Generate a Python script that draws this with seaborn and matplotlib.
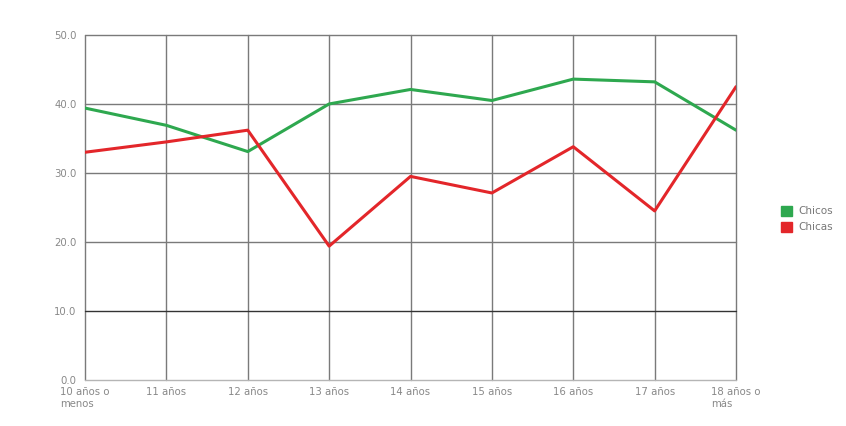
import matplotlib
matplotlib.use("Agg")
import matplotlib.pyplot as plt
from matplotlib.patches import Patch
from matplotlib.ticker import MultipleLocator
import seaborn as sns
import pandas as pd

categories = ["10 años o\nmenos", "11 años", "12 años", "13 años", "14 años",
              "15 años", "16 años", "17 años", "18 años o\nmás"]
chicos = [39.4, 36.9, 33.1, 40.0, 42.1, 40.5, 43.6, 43.2, 36.2]
chicas = [33.0, 34.5, 36.2, 19.4, 29.5, 27.1, 33.8, 24.5, 42.5]
series_names = ["Chicos", "Chicas"]
colors = ["#2ea84f", "#e3262a"]
yticks = [0, 10, 20, 30, 40, 50]

rows = []
for name, vals in zip(series_names, [chicos, chicas]):
    for i, v in enumerate(vals):
        rows.append({"x": i, "valor": v, "serie": name})
df = pd.DataFrame(rows)

sns.set_style("white")
fig = plt.figure(figsize=(8.46, 4.26), dpi=100)
ax = fig.add_axes([0.1005, 0.108, 0.7695, 0.81])

sns.lineplot(data=df, x="x", y="valor", hue="serie", palette=colors,
             hue_order=series_names, linewidth=2.2, ax=ax, legend=False, zorder=3)

ax.set_xlim(0, len(categories) - 1)
ax.set_ylim(0, 50)
ax.set_xticks(range(len(categories)))
ax.set_xticklabels(categories, multialignment="left")
ax.set_yticks(yticks)
ax.set_yticklabels([f"{v:.1f}" for v in yticks])
ax.yaxis.set_minor_locator(MultipleLocator(5))
ax.tick_params(axis="both", which="major", labelsize=7.3, labelcolor="#888888",
               color="#999999", length=4, width=0.8, direction="out", pad=2)
ax.tick_params(axis="y", which="minor", length=3, color="#999999", width=0.8)
ax.tick_params(axis="x", which="major", length=3)
for s in ax.spines.values():
    s.set_visible(False)
ax.grid(True, which="major", axis="both", color="#7a7a7a", linewidth=1.0, zorder=1)
ax.set_axisbelow(True)
for gl in ax.get_xgridlines() + ax.get_ygridlines():
    gl.set_clip_on(False)
ax.get_ygridlines()[0].set_color("#b5b5b5")
ax.get_ygridlines()[1].set_color("#333333")
ax.set_xlabel("")
ax.set_ylabel("")

handles = [Patch(facecolor=c, edgecolor=c) for c in colors]
fig.legend(handles, series_names, loc="center left", bbox_to_anchor=(0.912, 0.486),
           frameon=False, fontsize=7.5, labelcolor="#777777", handlelength=1.1,
           handleheight=1.1, handletextpad=0.6, labelspacing=0.55)

fig.savefig("out.png", dpi=100)
